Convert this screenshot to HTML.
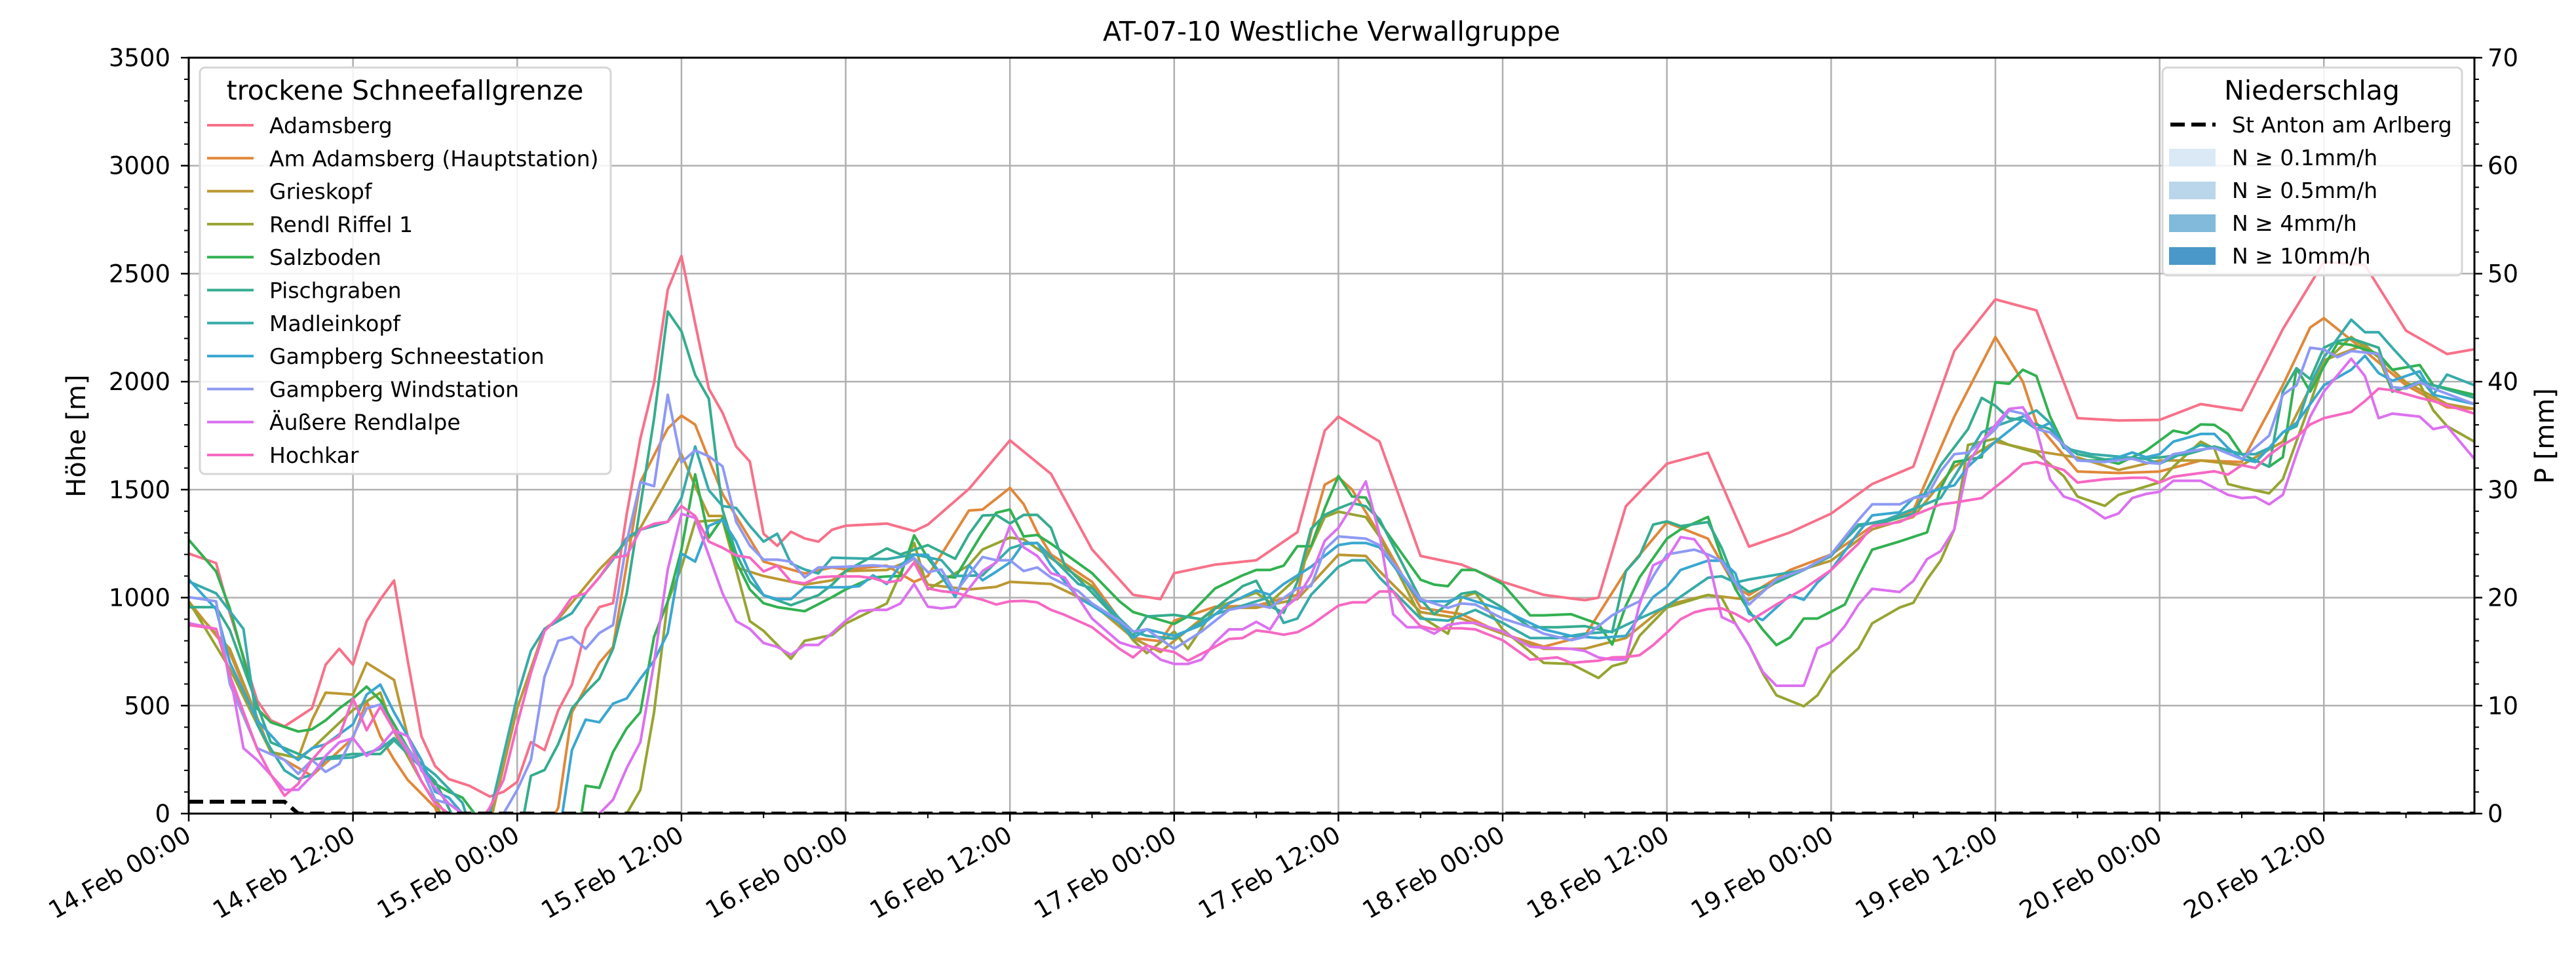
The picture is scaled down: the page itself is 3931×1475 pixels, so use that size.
<!DOCTYPE html>
<html><head><meta charset="utf-8">
<style>
html,body{margin:0;padding:0;background:#fff;}
svg{display:block;font-family:"DejaVu Sans","Liberation Sans",sans-serif;}
</style></head>
<body>
<svg id="chart" width="3931" height="1475" viewBox="0 0 3931 1475" xmlns="http://www.w3.org/2000/svg">
<defs><clipPath id="plotclip"><rect x="288" y="88" width="3488" height="1153"/></clipPath></defs>
<rect x="0" y="0" width="3931" height="1475" fill="#fff"/>
<g id="grid"></g>
<g id="series" clip-path="url(#plotclip)"></g>
<g id="axes"></g>
<text x="2032" y="62" text-anchor="middle" font-size="41" fill="#000">AT-07-10 Westliche Verwallgruppe</text>
<text transform="translate(130,665) rotate(-90)" text-anchor="middle" font-size="40" fill="#000">Höhe [m]</text>
<text transform="translate(3897,665) rotate(-90)" text-anchor="middle" font-size="40" fill="#000">P [mm]</text>
<g id="legend1"></g>
<g id="legend2"></g>
</svg>
<script>
const xTickLabels = ["14.Feb 00:00","14.Feb 12:00","15.Feb 00:00","15.Feb 12:00","16.Feb 00:00","16.Feb 12:00","17.Feb 00:00","17.Feb 12:00","18.Feb 00:00","18.Feb 12:00","19.Feb 00:00","19.Feb 12:00","20.Feb 00:00","20.Feb 12:00"];
const yTicks = [0,500,1000,1500,2000,2500,3000,3500];
const y2Ticks = [0,10,20,30,40,50,60,70];
const stationNames = ["Adamsberg","Am Adamsberg (Hauptstation)","Grieskopf","Rendl Riffel 1","Salzboden","Pischgraben","Madleinkopf","Gampberg Schneestation","Gampberg Windstation","Äußere Rendlalpe","Hochkar"];
const stationColors = ["#f77189","#e0883a","#bb9832","#97a431","#32b151","#35ac8f","#37abaa","#39a7d0","#8e99f4","#dc71f0","#f668c3"];
const adamsberg = [[0,1204],[2,1160],[3,928],[5,524],[6,432],[7,404],[9,487],[10,689],[11,763],[12,689],[13,891],[14,992],[15,1079],[16,708],[17,358],[18,220],[19,160],[20.5,129],[22,79],[23,101],[24,147],[25,331],[26,294],[27,478],[28,597],[29,855],[30,956],[31,974],[32,1388],[33,1737],[34,1994],[35,2426],[36,2582],[37,2270],[38,1967],[39,1856],[40,1700],[41,1630],[42,1296],[43,1240],[44,1305],[45,1274],[46,1259],[47,1314],[48,1333],[51,1343],[53,1308],[54,1338],[57,1503],[60,1728],[63,1573],[66,1223],[69,1013],[71,993],[72,1113],[75,1153],[78,1173],[81,1303],[83,1773],[84,1838],[87,1723],[90,1193],[93,1153],[96,1073],[99,1013],[102,988],[103,1000],[105,1423],[108,1620],[111,1671],[114,1236],[117,1302],[120,1389],[123,1526],[126,1606],[129,2142],[132,2381],[135,2330],[138,1831],[141,1820],[144,1823],[147,1896],[150,1867],[153,2243],[156,2555],[159,2540],[162,2236],[165,2128],[167,2150]];
const amAdamsberg = [[0,983],[3,745],[6,285],[9,175],[12,350],[13,520],[14,358],[15,250],[16,156],[18,28],[19,-150],[24,-200],[26,-100],[27,28],[28,469],[30,698],[31,772],[33,1535],[35,1783],[36,1843],[37,1801],[39,1480],[42,1167],[45,1112],[47,1140],[48,1130],[51,1148],[53,1073],[54,1100],[57,1403],[58,1408],[60,1508],[61,1433],[62,1303],[63,1200],[66,1073],[69,813],[71,798],[72,893],[75,958],[78,963],[81,1013],[82,1303],[83,1523],[84,1558],[85,1500],[87,1293],[90,953],[93,923],[96,833],[99,773],[102,823],[105,1123],[108,1348],[111,1273],[113,1050],[114,1012],[117,1128],[120,1200],[123,1331],[126,1403],[129,1838],[132,2207],[134,2000],[135,1809],[138,1584],[141,1577],[144,1584],[147,1635],[150,1628],[153,1983],[155,2251],[156,2294],[159,2142],[162,1983],[165,1881],[167,1874]];
const grieskopf = [[0,970],[3,763],[6,285],[8,257],[9,432],[10,560],[12,551],[13,698],[15,619],[16,358],[18,64],[20,-100],[22,-50],[24,487],[26,855],[27,900],[30,1130],[33,1323],[36,1663],[37,1516],[38,1378],[39,1378],[40,1140],[42,1100],[45,1060],[47,1080],[48,1123],[51,1128],[53,1180],[54,1060],[57,1038],[59,1050],[60,1073],[63,1063],[66,973],[69,813],[71,748],[72,800],[75,953],[78,953],[81,993],[84,1198],[86,1193],[87,1123],[90,933],[93,903],[96,833],[99,763],[102,763],[105,813],[108,966],[111,1012],[114,990],[117,1113],[120,1171],[123,1316],[126,1374],[129,1606],[132,1722],[135,1678],[138,1649],[141,1591],[144,1635],[147,1635],[150,1613],[153,1722],[156,2099],[159,2171],[162,1997],[165,1896],[167,1874]];
const rendlRiffel = [[0,983],[3,671],[6,285],[8,257],[9,300],[12,480],[14,560],[15,380],[17,150],[18,50],[20,-200],[31,-200],[32,0],[33,110],[34,469],[35,983],[36,1140],[37,1351],[39,1360],[40,1130],[41,891],[42,846],[44,717],[45,800],[47,827],[48,880],[51,973],[53,1253],[54,1038],[57,1150],[58,1223],[60,1278],[61,1270],[63,1183],[66,1053],[69,803],[70,743],[72,843],[73,763],[75,953],[78,1023],[79,978],[81,1093],[83,1373],[84,1398],[86,1373],[87,1283],[90,913],[92,833],[93,1000],[94,1023],[96,853],[99,698],[101,693],[103,628],[104,683],[105,700],[106,823],[108,954],[111,1012],[112,1000],[113,881],[114,780],[115,650],[116,548],[118,497],[119,548],[120,650],[122,766],[123,881],[125,954],[126,976],[127,1084],[128,1171],[129,1316],[130,1707],[132,1736],[133,1707],[135,1671],[137,1562],[138,1468],[140,1425],[141,1476],[144,1534],[145,1606],[147,1722],[148,1690],[149,1526],[150,1510],[152,1483],[153,1548],[155,1900],[156,2084],[158,2207],[160,2113],[161,1954],[163,1990],[164,1867],[165,1794],[167,1722]];
const salzboden = [[0,1268],[2,1121],[3,950],[5,487],[6,423],[8,380],[9,390],[10,432],[11,487],[12,533],[13,588],[14,524],[15,414],[16,303],[17,211],[18,138],[19,101],[20,74],[21,-10],[23,-300],[28,-300],[28.7,0],[29,129],[30,119],[31,285],[32,395],[33,469],[34,818],[35,983],[36,1222],[37,1571],[38,1277],[39,1369],[40,1167],[41,1038],[42,974],[43,956],[45,937],[47,1002],[48,1038],[50,1093],[51,1098],[52,1100],[53,1288],[54,1183],[55,1100],[56,1093],[58,1300],[59,1393],[60,1408],[61,1283],[62,1290],[63,1250],[66,1113],[68,983],[69,933],[72,878],[73,913],[75,1043],[77,1103],[78,1128],[79,1128],[80,1148],[81,1238],[82,1238],[83,1413],[84,1563],[85,1468],[86,1463],[87,1350],[90,1083],[91,1060],[92,1053],[93,1128],[94,1128],[96,1063],[98,918],[99,918],[101,923],[103,878],[104,783],[105,963],[106,1093],[108,1273],[109,1316],[111,1374],[112,1186],[113,1041],[114,939],[115,852],[116,780],[117,816],[118,903],[119,903],[121,968],[122,1099],[123,1222],[125,1260],[127,1302],[128,1505],[129,1628],[131,1650],[132,1997],[133,1990],[134,2055],[135,2026],[136,1838],[137,1707],[138,1635],[140,1635],[141,1620],[143,1680],[145,1773],[146,1760],[147,1802],[148,1800],[149,1758],[150,1664],[152,1606],[153,1650],[154,2062],[155,1954],[156,2070],[157,2178],[158,2170],[160,2128],[161,2055],[163,2077],[164,1983],[167,1939]];
const pischgraben = [[0,956],[2,956],[3,850],[6,330],[9,250],[12,276],[14,276],[15,340],[18,150],[20,-100],[24,-100],[24.5,0],[25,175],[26,202],[27,322],[28,487],[29,561],[30,625],[31,763],[32,1020],[33,1424],[34,1829],[35,2325],[36,2233],[37,2031],[38,1921],[39,1406],[40,1204],[41,1075],[42,1011],[44,965],[46,1011],[47,1060],[48,1123],[51,1228],[52,1200],[54,1243],[56,1180],[57,1293],[58,1380],[59,1383],[60,1343],[61,1383],[62,1383],[63,1323],[64,1150],[66,1023],[69,823],[70,913],[72,920],[74,900],[76,1000],[77,1053],[78,1078],[79,960],[80,930],[81,1073],[82,1318],[83,1383],[84,1413],[85,1438],[86,1423],[87,1363],[90,993],[91,923],[93,1018],[94,1028],[96,953],[98,863],[100,863],[102,868],[104,840],[105,1123],[106,1193],[107,1338],[108,1353],[109,1331],[111,1350],[112,1230],[113,1070],[114,1026],[116,1070],[118,1128],[120,1193],[122,1338],[124,1352],[126,1389],[128,1613],[130,1780],[131,1925],[132,1888],[133,1830],[134,1823],[136,1780],[137,1707],[138,1664],[140,1640],[144,1649],[146,1664],[148,1700],[150,1664],[152,1606],[153,1954],[154,2062],[155,2012],[156,2157],[157,2187],[158,2200],[160,2157],[161,1954],[163,2000],[164,1983],[167,1925]];
const madleinkopf = [[0,1075],[2,1020],[4,855],[5,413],[6,300],[7,200],[8,160],[9,180],[10,252],[12,260],[14,300],[15,350],[16,280],[18,180],[20,50],[21,-150],[22,0],[24,542],[25,754],[26,855],[28,928],[29,1020],[30,1094],[31,1176],[32,1277],[33,1314],[34,1332],[35,1351],[36,1461],[37,1700],[38,1497],[39,1424],[40,1415],[41,1332],[42,1259],[43,1296],[44,1158],[45,1130],[46,1112],[47,1185],[48,1183],[51,1178],[53,1200],[55,1173],[56,1100],[58,1103],[60,1228],[61,1248],[62,1253],[63,1190],[65,1063],[66,1043],[68,903],[69,843],[70,823],[72,810],[73,850],[75,923],[77,963],[79,1003],[80,883],[81,903],[82,1013],[84,1143],[85,1173],[86,1173],[87,1093],[90,903],[92,893],[94,943],[96,883],[98,813],[100,813],[102,833],[104,843],[106,903],[108,960],[111,1092],[112,1099],[113,1070],[114,1084],[116,1106],[118,1128],[120,1200],[122,1331],[124,1360],[126,1410],[128,1461],[129,1560],[131,1765],[132,1794],[134,1838],[135,1867],[136,1809],[137,1693],[138,1678],[139,1664],[143,1642],[144,1620],[146,1678],[147,1707],[148,1693],[150,1664],[151,1664],[152,1693],[153,1765],[154,1794],[155,1985],[156,2113],[158,2287],[159,2229],[160,2229],[161,2157],[163,2019],[164,1939],[165,2033],[167,1983]];
const gampbergSchnee = [[0,1084],[2,946],[3,700],[5,432],[7,294],[8,248],[9,303],[10,321],[12,413],[13,551],[14,597],[15,469],[17,248],[18,101],[19,74],[20,0],[21,-200],[27,-200],[27.3,0],[28,294],[29,435],[30,423],[31,509],[32,533],[33,625],[34,708],[35,836],[36,1204],[37,1167],[38,1332],[39,1360],[40,1259],[41,1112],[42,1011],[43,993],[44,993],[45,1048],[47,1048],[48,1048],[49,1053],[50,1103],[51,1063],[52,1150],[53,1198],[54,1198],[55,1100],[56,1003],[57,1150],[58,1080],[59,1120],[60,1163],[61,1253],[62,1253],[63,1150],[65,1000],[66,963],[68,883],[69,813],[70,853],[72,823],[74,873],[76,973],[78,1033],[79,1013],[80,1063],[82,1143],[84,1243],[85,1253],[86,1253],[87,1233],[90,983],[92,983],[93,1003],[96,943],[99,853],[101,823],[103,813],[105,823],[107,1003],[108,1050],[109,1128],[111,1171],[112,1171],[113,1113],[114,925],[115,896],[116,954],[117,1012],[118,990],[119,1070],[120,1128],[122,1302],[123,1381],[125,1395],[126,1461],[128,1505],[129,1520],[130,1606],[132,1722],[134,1823],[135,1780],[136,1809],[137,1700],[138,1635],[140,1628],[142,1672],[143,1650],[144,1664],[145,1722],[147,1758],[148,1758],[149,1693],[150,1642],[151,1628],[152,1693],[153,1765],[154,1809],[155,1896],[156,1983],[158,2055],[159,2120],[160,2040],[161,2004],[163,2048],[164,1939],[167,1896]];
const gampbergWind = [[0,1002],[2,983],[3,600],[5,303],[7,248],[8,184],[9,248],[10,193],[11,230],[12,358],[13,487],[14,505],[15,386],[17,211],[18,64],[19,46],[20,0],[21,-100],[23,0],[24,110],[25,248],[26,634],[27,800],[28,818],[29,763],[30,836],[31,873],[32,1259],[33,1535],[34,1516],[35,1939],[36,1626],[37,1682],[38,1654],[39,1608],[40,1351],[41,1241],[42,1176],[43,1176],[44,1167],[45,1094],[46,1140],[48,1143],[50,1150],[52,1140],[53,1183],[54,1118],[55,1130],[56,1023],[58,1188],[59,1173],[60,1173],[61,1123],[62,1140],[63,1093],[65,1030],[66,973],[68,893],[69,843],[70,853],[72,763],[74,843],[76,943],[78,968],[79,953],[81,1043],[82,1053],[83,1223],[84,1283],[86,1273],[87,1243],[90,993],[92,953],[93,973],[94,968],[96,903],[98,863],[99,833],[101,803],[102,818],[104,918],[105,953],[106,983],[107,1099],[108,1200],[110,1222],[111,1200],[112,1170],[113,1070],[114,968],[116,1084],[118,1130],[120,1200],[122,1360],[123,1432],[125,1432],[126,1461],[127,1470],[128,1584],[129,1664],[130,1671],[131,1722],[132,1780],[133,1867],[134,1852],[135,1780],[136,1765],[137,1707],[138,1635],[140,1628],[142,1643],[143,1625],[144,1620],[145,1664],[147,1686],[148,1693],[150,1642],[152,1750],[153,1939],[154,1983],[155,2157],[156,2149],[157,2113],[158,2142],[160,2128],[161,1975],[162,1968],[163,1997],[164,1968],[167,1896]];
const aeussereRendlalpe = [[0,882],[2,855],[3,650],[4,303],[5,248],[7,110],[8,110],[9,175],[10,267],[11,330],[12,349],[13,267],[14,312],[15,386],[16,358],[17,200],[18,119],[19,46],[20,0],[21,-200],[29,-200],[30,0],[31,64],[32,211],[33,331],[34,700],[35,1130],[36,1388],[37,1369],[38,1195],[39,1020],[40,891],[41,855],[42,790],[43,772],[44,735],[45,781],[46,781],[47,836],[48,893],[49,938],[50,943],[51,943],[52,973],[53,1063],[54,958],[55,950],[56,958],[58,1123],[59,1163],[60,1333],[61,1233],[62,1193],[63,1113],[64,1093],[66,903],[68,793],[69,773],[70,763],[71,713],[72,693],[73,693],[74,713],[75,793],[76,853],[77,853],[78,888],[79,853],[80,950],[81,1000],[82,1103],[83,1263],[84,1323],[85,1423],[86,1538],[87,1293],[88,923],[89,863],[90,863],[91,833],[92,873],[93,883],[94,883],[96,843],[98,773],[99,768],[101,763],[102,753],[103,723],[104,713],[105,713],[106,968],[107,1150],[108,1180],[109,1280],[110,1270],[111,1186],[112,910],[113,880],[114,780],[115,657],[116,592],[118,592],[119,766],[120,795],[121,868],[122,968],[123,1041],[125,1026],[126,1077],[127,1178],[128,1215],[129,1316],[130,1620],[131,1722],[132,1800],[133,1874],[134,1881],[135,1780],[136,1548],[137,1468],[138,1447],[139,1410],[140,1367],[141,1390],[142,1461],[143,1480],[144,1490],[145,1541],[147,1541],[149,1476],[150,1461],[151,1466],[152,1432],[153,1476],[154,1664],[155,1838],[156,1954],[158,2106],[159,2026],[160,1831],[161,1852],[163,1838],[164,1780],[165,1794],[167,1642]];
const hochkar = [[0,873],[2,855],[3,640],[5,300],[6,180],[7,83],[8,138],[9,248],[10,321],[11,358],[12,533],[13,386],[14,496],[15,386],[16,285],[17,150],[18,46],[19,0],[20,-60],[21,-60],[22,28],[23,156],[24,413],[25,652],[26,845],[27,910],[28,1002],[29,1020],[30,1094],[31,1185],[32,1195],[33,1314],[34,1342],[35,1351],[36,1424],[37,1378],[38,1259],[39,1231],[40,1195],[41,1185],[42,1121],[43,1148],[44,1075],[45,1066],[46,1094],[47,1098],[49,1098],[50,1090],[51,1070],[52,1080],[53,1163],[54,1043],[55,1030],[56,1023],[58,990],[59,968],[60,983],[61,985],[62,978],[63,943],[64,920],[66,863],[68,763],[69,723],[70,778],[71,760],[72,748],[73,708],[75,773],[76,808],[77,813],[78,848],[79,840],[80,828],[81,840],[82,873],[84,963],[85,978],[86,978],[87,1028],[88,1028],[89,935],[90,868],[91,853],[92,858],[93,858],[94,853],[96,803],[98,713],[99,718],[100,723],[101,698],[102,703],[103,708],[104,723],[105,725],[106,733],[107,780],[108,838],[109,900],[110,932],[111,947],[112,950],[113,925],[114,889],[116,968],[118,1041],[120,1128],[122,1250],[123,1331],[125,1350],[126,1381],[128,1432],[129,1440],[131,1461],[133,1562],[134,1618],[135,1628],[136,1610],[137,1591],[138,1533],[140,1548],[142,1555],[143,1555],[144,1533],[145,1560],[147,1577],[148,1585],[149,1570],[150,1613],[151,1600],[152,1660],[153,1707],[154,1743],[155,1802],[156,1831],[158,1860],[159,1910],[160,1968],[161,1960],[163,1925],[164,1910],[167,1852]];
const stAntonPrecip = [[0,1.1],[7,1.1],[8,0],[167,0]];
const precipClasses = ["N ≥ 0.1mm/h","N ≥ 0.5mm/h","N ≥ 4mm/h","N ≥ 10mm/h"];
const precipColors = ["#dbe9f6","#bad6eb","#82badb","#4a98c9"];

const NS="http://www.w3.org/2000/svg";
const X0=288,X1=3776,Y0=1241,Y1=88,HMAX=167,VMAX=3500,PMAX=70;
function xs(h){return X0+(X1-X0)*h/HMAX;}
function ys(v){return Y0-(Y0-Y1)*v/VMAX;}
function yp(p){return Y0-(Y0-Y1)*p/PMAX;}
function mk(tag,attrs,parent){const e=document.createElementNS(NS,tag);for(const k in attrs)e.setAttribute(k,attrs[k]);parent.appendChild(e);return e;}
const grid=document.getElementById('grid'),axes=document.getElementById('axes'),ser=document.getElementById('series');

xTickLabels.forEach((lab,i)=>{const x=xs(i*12);
  const g=mk('line',{x1:x,x2:x,y1:Y1,y2:Y0,stroke:'#b0b0b0','stroke-width':2.5},grid);
  
  });
yTicks.forEach(v=>{const y=ys(v);
  const g=mk('line',{x1:X0,x2:X1,y1:y,y2:y,stroke:'#b0b0b0','stroke-width':2.5},grid);
  
  });

const allSeries=[adamsberg,amAdamsberg,grieskopf,rendlRiffel,salzboden,pischgraben,madleinkopf,gampbergSchnee,gampbergWind,aeussereRendlalpe,hochkar];
allSeries.forEach((s,i)=>{
  const d=s.map((p,j)=>(j?'L':'M')+xs(p[0]).toFixed(1)+','+ys(p[1]).toFixed(1)).join('');
  const pth=mk('path',{d:d,fill:'none',stroke:stationColors[i],'stroke-width':4,'stroke-linejoin':'round'},ser);
  
  
});
const pd=stAntonPrecip.map((p,j)=>(j?'L':'M')+xs(p[0]).toFixed(1)+','+yp(p[1]).toFixed(1)).join('');
const pl=mk('path',{d:pd,fill:'none',stroke:'#000','stroke-width':6,'stroke-dasharray':'22,10'},ser);



const sp=mk('rect',{x:X0,y:Y1,width:X1-X0,height:Y0-Y1,fill:'none',stroke:'#000','stroke-width':3},axes);



for(let v=0;v<=VMAX;v+=100){const y=ys(v);const major=v%500===0;
  const t=mk('line',{x1:X0,x2:X0-(major?12:7),y1:y,y2:y,stroke:'#000','stroke-width':major?2.5:2},axes);
  
  }
yTicks.forEach(v=>{const t=mk('text',{x:X0-28,y:ys(v)+13,'text-anchor':'end','font-size':37,fill:'#000'},axes);t.textContent=v;
  
  });
for(let p=0;p<=PMAX;p+=2){const y=yp(p);const major=p%10===0;
  const t=mk('line',{x1:X1,x2:X1+(major?12:7),y1:y,y2:y,stroke:'#000','stroke-width':major?2.5:2},axes);
  
  }
y2Ticks.forEach(p=>{const t=mk('text',{x:X1+20,y:yp(p)+13,'text-anchor':'start','font-size':37,fill:'#000'},axes);t.textContent=p;
  
  });
for(let h=0;h<=HMAX;h+=6){const x=xs(h);const major=h%12===0;
  const t=mk('line',{x1:x,x2:x,y1:Y0,y2:Y0+(major?12:7),stroke:'#000','stroke-width':major?2.5:2},axes);
  
  }
xTickLabels.forEach((lab,i)=>{const x=xs(i*12);
  const t=mk('text',{transform:'translate('+(x+6)+','+(Y0+40)+') rotate(-30)','text-anchor':'end','font-size':37,fill:'#000'},axes);
  t.textContent=lab;
  
  });

const L1=document.getElementById('legend1');
const b1=mk('rect',{x:305,y:103,width:627,height:620,rx:8,fill:'#fff','fill-opacity':0.85,stroke:'#d6d6d6','stroke-width':3},L1);


const t1=mk('text',{x:618,y:152,'text-anchor':'middle','font-size':41,fill:'#000'},L1);t1.textContent='trockene Schneefallgrenze';


stationNames.forEach((n,i)=>{const y=191+i*50.3;
  const ln=mk('line',{x1:316,x2:387,y1:y,y2:y,stroke:stationColors[i],'stroke-width':4},L1);
  
  
  const tx=mk('text',{x:411,y:y+12,'font-size':33,fill:'#000'},L1);tx.textContent=n;
  
  });

const L2=document.getElementById('legend2');
const b2=mk('rect',{x:3300,y:103,width:457,height:317,rx:8,fill:'#fff','fill-opacity':0.85,stroke:'#d6d6d6','stroke-width':3},L2);


const t2=mk('text',{x:3528,y:152,'text-anchor':'middle','font-size':41,fill:'#000'},L2);t2.textContent='Niederschlag';


const dl=mk('line',{x1:3312,x2:3381,y1:190,y2:190,stroke:'#000','stroke-width':6,'stroke-dasharray':'22,10'},L2);


const st=mk('text',{x:3406,y:202,'font-size':33,fill:'#000'},L2);st.textContent='St Anton am Arlberg';


precipClasses.forEach((n,i)=>{const y=240+i*50;
  const r=mk('rect',{x:3310,y:y-13,width:71,height:27,fill:precipColors[i]},L2);
  
  
  const tx=mk('text',{x:3406,y:y+12,'font-size':33,fill:'#000'},L2);tx.textContent=n;
  
  });
</script>
</body></html>
